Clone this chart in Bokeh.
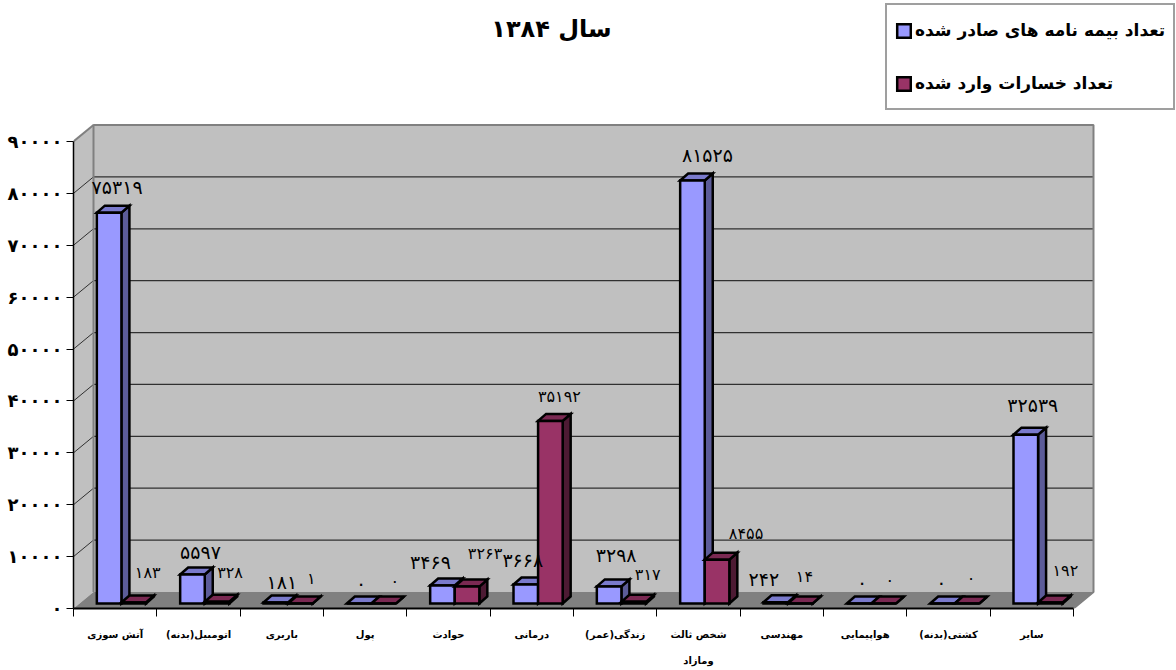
from bokeh.plotting import figure
from bokeh.models import FixedTicker, Legend, LegendItem, LinearAxis, ColumnDataSource, Range1d
from bokeh.core.properties import value
from bokeh.embed import file_html
from bokeh.resources import INLINE

# ---------- data ----------
categories = ["آتش سوزی", "اتومبیل(بدنه)\u200f", "باربری", "پول", "حوادث", "درمانی",
              "زندگی(عمر)\u200f", "شخص ثالث\nومازاد", "مهندسی", "هواپیمایی", "کشتی(بدنه)\u200f", "سایر"]
policies_issued = [75319, 5597, 181, 0, 3469, 3668, 3298, 81525, 242, 0, 0, 32539]
claims_incurred = [183, 328, 1, 0, 3263, 35192, 317, 8455, 14, 0, 0, 192]
series_names = ["تعداد بیمه نامه های صادر شده", "تعداد خسارات وارد شده"]
title_text = "سال ۱۳۸۴"
y_ticks = [0, 10000, 20000, 30000, 40000, 50000, 60000, 70000, 80000, 90000]

# ---------- label nudges (screen px, from bar top centre) ----------
blue_dx = [8, 8, 6, 2, -12, -3, 7, 15, -12, 3, -1, 7]
blue_dy = [-26, -22, -21, -21, -23, -24, -31, -25, -23, -22, -22, -30]
red_dx = [14, 13, 11, 11, 18, 9, 14, 29, 4, 6, 4, 15]
red_dy = [-30, -29, -25, -22, -33, -24, -27, -26, -27, -23, -25, -32]

FONT = "DejaVu Sans"
PX_X = 1000 / 12              # px per category
PX_Y = 467 / 90000            # px per unit
WALL_DX, WALL_DY = 20 / PX_X, 16.5 / PX_Y
BAR_DX, BAR_DY = 8 / PX_X, 7 / PX_Y
BAR_X0, BAR_W, BAR_BASE = 0.28, 0.295, 5 / PX_Y

def fa(n):
    return str(n).translate(str.maketrans("0123456789", "۰۱۲۳۴۵۶۷۸۹"))

def X(px):   # page px -> data
    return (px - 73) / PX_X

def Y(py):
    return (608 - py) / PX_Y

n = len(categories)
p = figure(width=1176, height=670, output_backend="svg", toolbar_location=None,
           x_range=Range1d(0, 1103 / PX_X), y_range=Range1d(0, 608 / PX_Y),
           x_axis_location=None, y_axis_location=None,
           min_border_left=73, min_border_right=0, min_border_top=0, min_border_bottom=62)
p.outline_line_color = None
p.grid.visible = False
p.background_fill_color = "white"

# ---------- walls ----------
top = y_ticks[-1]
p.patch([0, WALL_DX, WALL_DX, 0], [0, WALL_DY, top + WALL_DY, top], fill_color="#C0C0C0", line_color=None)
p.patch([WALL_DX, n + WALL_DX, n + WALL_DX, WALL_DX], [WALL_DY, WALL_DY, top + WALL_DY, top + WALL_DY],
        fill_color="#C0C0C0", line_color=None)
p.patch([0, n, n + WALL_DX, WALL_DX], [0, 0, WALL_DY, WALL_DY], fill_color="#808080", line_color=None)
inner = y_ticks[1:-1]
p.segment([WALL_DX] * len(inner), [t + WALL_DY for t in inner], [n + WALL_DX] * len(inner), [t + WALL_DY for t in inner],
          line_color="#303030", line_width=1.2)
p.segment([0] * len(inner), inner, [WALL_DX] * len(inner), [t + WALL_DY for t in inner],
          line_color="#303030", line_width=1)
# wall frame
p.line([n, n + WALL_DX, n + WALL_DX, WALL_DX, WALL_DX], [0, WALL_DY, top + WALL_DY, top + WALL_DY, WALL_DY],
       line_color="#808080", line_width=2)
p.line([0, WALL_DX], [top, top + WALL_DY], line_color="#808080", line_width=2)

# ---------- bars ----------
def draw_series(vals, offset, front, side, cap):
    lefts = [i + BAR_X0 + offset * BAR_W for i in range(n)]
    rights = [l + BAR_W for l in lefts]
    tops = [BAR_BASE + v for v in vals]
    sx = [[r, r + BAR_DX, r + BAR_DX, r] for r in rights]
    sy = [[BAR_BASE, BAR_BASE + BAR_DY, t + BAR_DY, t] for t in tops]
    cx = [[l, l + BAR_DX, r + BAR_DX, r] for l, r in zip(lefts, rights)]
    cy = [[t, t + BAR_DY, t + BAR_DY, t] for t in tops]
    style = dict(line_color="black", line_width=2.5, line_join="miter")
    p.patches(sx, sy, fill_color=side, **style)
    p.patches(cx, cy, fill_color=cap, **style)
    r = p.quad(left=lefts, right=rights, bottom=[BAR_BASE] * n, top=tops, fill_color=front, **style)
    return r, [(l + w) / 2 for l, w in zip(lefts, rights)], tops

blue, blue_x, blue_top = draw_series(policies_issued, 0, "#9999FF", "#5C5C99", "#7A7ACC")
red, red_x, red_top = draw_series(claims_incurred, 1, "#993366", "#4D1A33", "#7A2952")

# ---------- value labels ----------
for xs, ys, vals, dx, dy, size in [(blue_x, blue_top, policies_issued, blue_dx, blue_dy, "19px"),
                                   (red_x, red_top, claims_incurred, red_dx, red_dy, "16px")]:
    src = ColumnDataSource(dict(x=xs, y=ys, t=[fa(v) for v in vals], dx=dx, dy=dy))
    p.text("x", "y", text="t", source=src, x_offset="dx", y_offset="dy",
           text_font=value(FONT), text_font_size=size, text_align="center", text_baseline="middle",
           text_color="black")

# ---------- axes ----------
yax = LinearAxis(ticker=FixedTicker(ticks=y_ticks), bounds=(0, top))
yax.major_label_overrides = {t: fa(t) for t in y_ticks}
yax.major_tick_out, yax.major_tick_in = 7, 0
yax.major_tick_line_color = "black"
yax.minor_tick_line_color = None
yax.axis_line_color = "black"
yax.axis_line_width = 1.5
yax.major_label_standoff = 4
yax.major_label_text_font = FONT
yax.major_label_text_font_size = "18px"
yax.major_label_text_font_style = "bold"
yax.major_label_text_color = "black"
p.add_layout(yax, "left")

centres = [i + 0.5 for i in range(n)]
xax = LinearAxis(ticker=FixedTicker(ticks=centres, minor_ticks=list(range(n + 1))), bounds=(0, n))
xax.major_label_overrides = dict(zip(centres, categories))
xax.major_tick_line_color = None
xax.minor_tick_out, xax.minor_tick_in = 8, 0
xax.minor_tick_line_color = "black"
xax.axis_line_color = "black"
xax.axis_line_width = 2
xax.major_label_standoff = 12
xax.major_label_text_font = FONT
xax.major_label_text_font_size = "10px"
xax.major_label_text_font_style = "bold"
xax.major_label_text_color = "black"
xax.major_label_text_line_height = 2.4
p.add_layout(xax, "below")

# ---------- title ----------
p.text([X(551)], [Y(28)], text=[title_text], text_font=value(FONT), text_font_size="24px",
       text_font_style="bold", text_align="center", text_baseline="middle", text_color="black")

# ---------- legend ----------
legend = Legend(items=[LegendItem(label=series_names[0], renderers=[blue]),
                       LegendItem(label=series_names[1], renderers=[red])],
                location=(885 - 73, 608 - 110), orientation="vertical",
                glyph_width=17, glyph_height=17, label_height=34, spacing=19, padding=8, margin=0,
                label_standoff=3, label_text_font=FONT, label_text_font_size="17px",
                label_text_font_style="bold", label_text_color="black",
                background_fill_color="white", background_fill_alpha=1,
                border_line_color="#404040", border_line_width=2)
p.add_layout(legend)

open("out.html", "w").write(file_html(p, INLINE))
